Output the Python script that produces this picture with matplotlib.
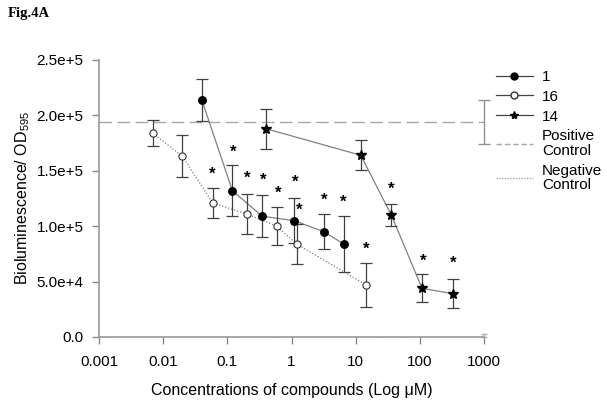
import matplotlib
matplotlib.use("Agg")
import matplotlib.pyplot as plt
import numpy as np

plt.rcParams['font.family'] = ['Liberation Sans', 'DejaVu Sans']

# ---- data ----
c1_x = [0.04, 0.12, 0.35, 1.1, 3.2, 6.5]
c1_y = [2.14e5, 1.32e5, 1.09e5, 1.05e5, 0.95e5, 0.84e5]
c1_err = [0.19e5, 0.23e5, 0.19e5, 0.20e5, 0.16e5, 0.25e5]

c16_x = [0.0069, 0.02, 0.059, 0.2, 0.59, 1.2, 14.6]
c16_y = [1.84e5, 1.63e5, 1.21e5, 1.11e5, 1.0e5, 0.84e5, 0.47e5]
c16_err = [0.115e5, 0.19e5, 0.135e5, 0.18e5, 0.17e5, 0.18e5, 0.195e5]

c14_x = [0.4, 12, 36, 108, 330]
c14_y = [1.88e5, 1.64e5, 1.10e5, 0.44e5, 0.39e5]
c14_err = [0.18e5, 0.135e5, 0.10e5, 0.125e5, 0.13e5]

pos_ctrl = 1.94e5
pos_err = 0.195e5
neg_ctrl = 0.0
neg_err = 0.03e5

star_x = [0.059, 0.122, 0.204, 0.362, 0.62, 1.16, 1.32, 3.28, 6.47, 14.6, 36.2, 112, 330]
star_y = [1.465e5, 1.67e5, 1.429e5, 1.411e5, 1.293e5, 1.396e5, 1.14e5, 1.236e5,
          1.218e5, 0.79e5, 1.336e5, 0.686e5, 0.662e5]

xticks = [0.001, 0.01, 0.1, 1, 10, 100, 1000]
xtick_labels = ["0.001", "0.01", "0.1", "1", "10", "100", "1000"]
yticks = [0, 0.5e5, 1.0e5, 1.5e5, 2.0e5, 2.5e5]
ytick_labels = ["0.0", "5.0e+4", "1.0e+5", "1.5e+5", "2.0e+5", "2.5e+5"]

# ---- figure ----
fig = plt.figure(figsize=(6.07, 4.01), dpi=100)
ax = fig.add_axes([99/607, 1-337/401, 385/607, 277/401])

ebc = '#404040'
lc = '#808080'

# controls
ax.axhline(pos_ctrl, color='#a8a8a8', lw=1, ls=(0, (9, 4)), zorder=1)
ax.axhline(neg_ctrl, color='#a8a8a8', lw=1, ls=(0, (1, 1.2)), zorder=1)
ax.errorbar([1000], [pos_ctrl], yerr=[pos_err], fmt='none', ecolor='#909090',
            elinewidth=1, capsize=4, clip_on=False)
ax.errorbar([1000], [neg_ctrl], yerr=[[0], [neg_err]], fmt='none', ecolor='#b0b0b0',
            elinewidth=1, capsize=2, clip_on=False)

# series lines
ax.plot(c1_x, c1_y, color=lc, lw=0.9, zorder=2)
ax.plot(c16_x, c16_y, color=lc, lw=0.9, ls=(0, (1, 1.5)), zorder=2)
ax.plot(c14_x, c14_y, color=lc, lw=0.9, zorder=2)

# error bars
for xs, ys, es in [(c1_x, c1_y, c1_err), (c16_x, c16_y, c16_err), (c14_x, c14_y, c14_err)]:
    ax.errorbar(xs, ys, yerr=es, fmt='none', ecolor=ebc, elinewidth=0.9, capsize=4.5,
                capthick=0.9, zorder=3)

# markers
ax.plot(c1_x, c1_y, 'o', color='black', ms=5.4, zorder=4)
ax.plot(c16_x, c16_y, 'o', mfc='white', mec='#333333', mew=0.8, ms=5.2, zorder=4)
ax.plot(c14_x, c14_y, '*', color='black', ms=7.5, zorder=4)

# significance asterisks
for sx, sy in zip(star_x, star_y):
    ax.text(sx, sy, '*', ha='center', va='center', fontsize=12, fontweight='bold',
            color='black', zorder=5)

ax.set_xscale('log')
ax.set_xlim(0.001, 1000)
ax.set_ylim(0, 2.5e5)
ax.set_xticks(xticks)
ax.set_xticklabels(xtick_labels)
ax.xaxis.set_minor_locator(matplotlib.ticker.NullLocator())
ax.set_yticks(yticks)
ax.set_yticklabels(ytick_labels)

for s in ['top', 'right']:
    ax.spines[s].set_visible(False)
for s in ['left', 'bottom']:
    ax.spines[s].set_color('#999999')
    ax.spines[s].set_linewidth(1.2)
ax.tick_params(axis='both', direction='out', length=5, width=1, color='#888888',
               labelsize=11, pad=6)
ax.tick_params(axis='x', pad=8)

ax.set_xlabel('Concentrations of compounds (Log \u03bcM)', fontsize=11.5, labelpad=10)
ax.set_ylabel('Bioluminescence/ OD$_{\\mathregular{595}}$', fontsize=11.5)
ax.yaxis.set_label_coords(-0.175, 0.5)

# legend
from matplotlib.lines import Line2D
handles = [
    Line2D([], [], color='#444444', lw=0.9, marker='o', mfc='black', mec='black', ms=5),
    Line2D([], [], color='#444444', lw=0.9, marker='o', mfc='white', mec='#333333', ms=5),
    Line2D([], [], color='#444444', lw=0.9, marker='*', mfc='black', mec='black', ms=6),
    Line2D([], [], color='#a8a8a8', lw=1, ls=(0, (4, 2))),
    Line2D([], [], color='#a8a8a8', lw=1, ls=(0, (1, 1))),
]
labels = ['1', '16', '14', 'Positive\nControl', 'Negative\nControl']
leg = fig.legend(handles, labels, loc='upper left', bbox_to_anchor=(496/607, 1-70/401),
                 frameon=False, fontsize=11, handlelength=2.4, handletextpad=0.6,
                 labelspacing=0.38, borderaxespad=0, borderpad=0)
for t in leg.get_texts():
    t.set_linespacing(1.05)

fig.text(8/607, 1-14/401, 'Fig.4A', fontsize=10.5, fontweight='bold',
         family='Liberation Serif', va='center', ha='left')

fig.savefig('out.png', dpi=100)
